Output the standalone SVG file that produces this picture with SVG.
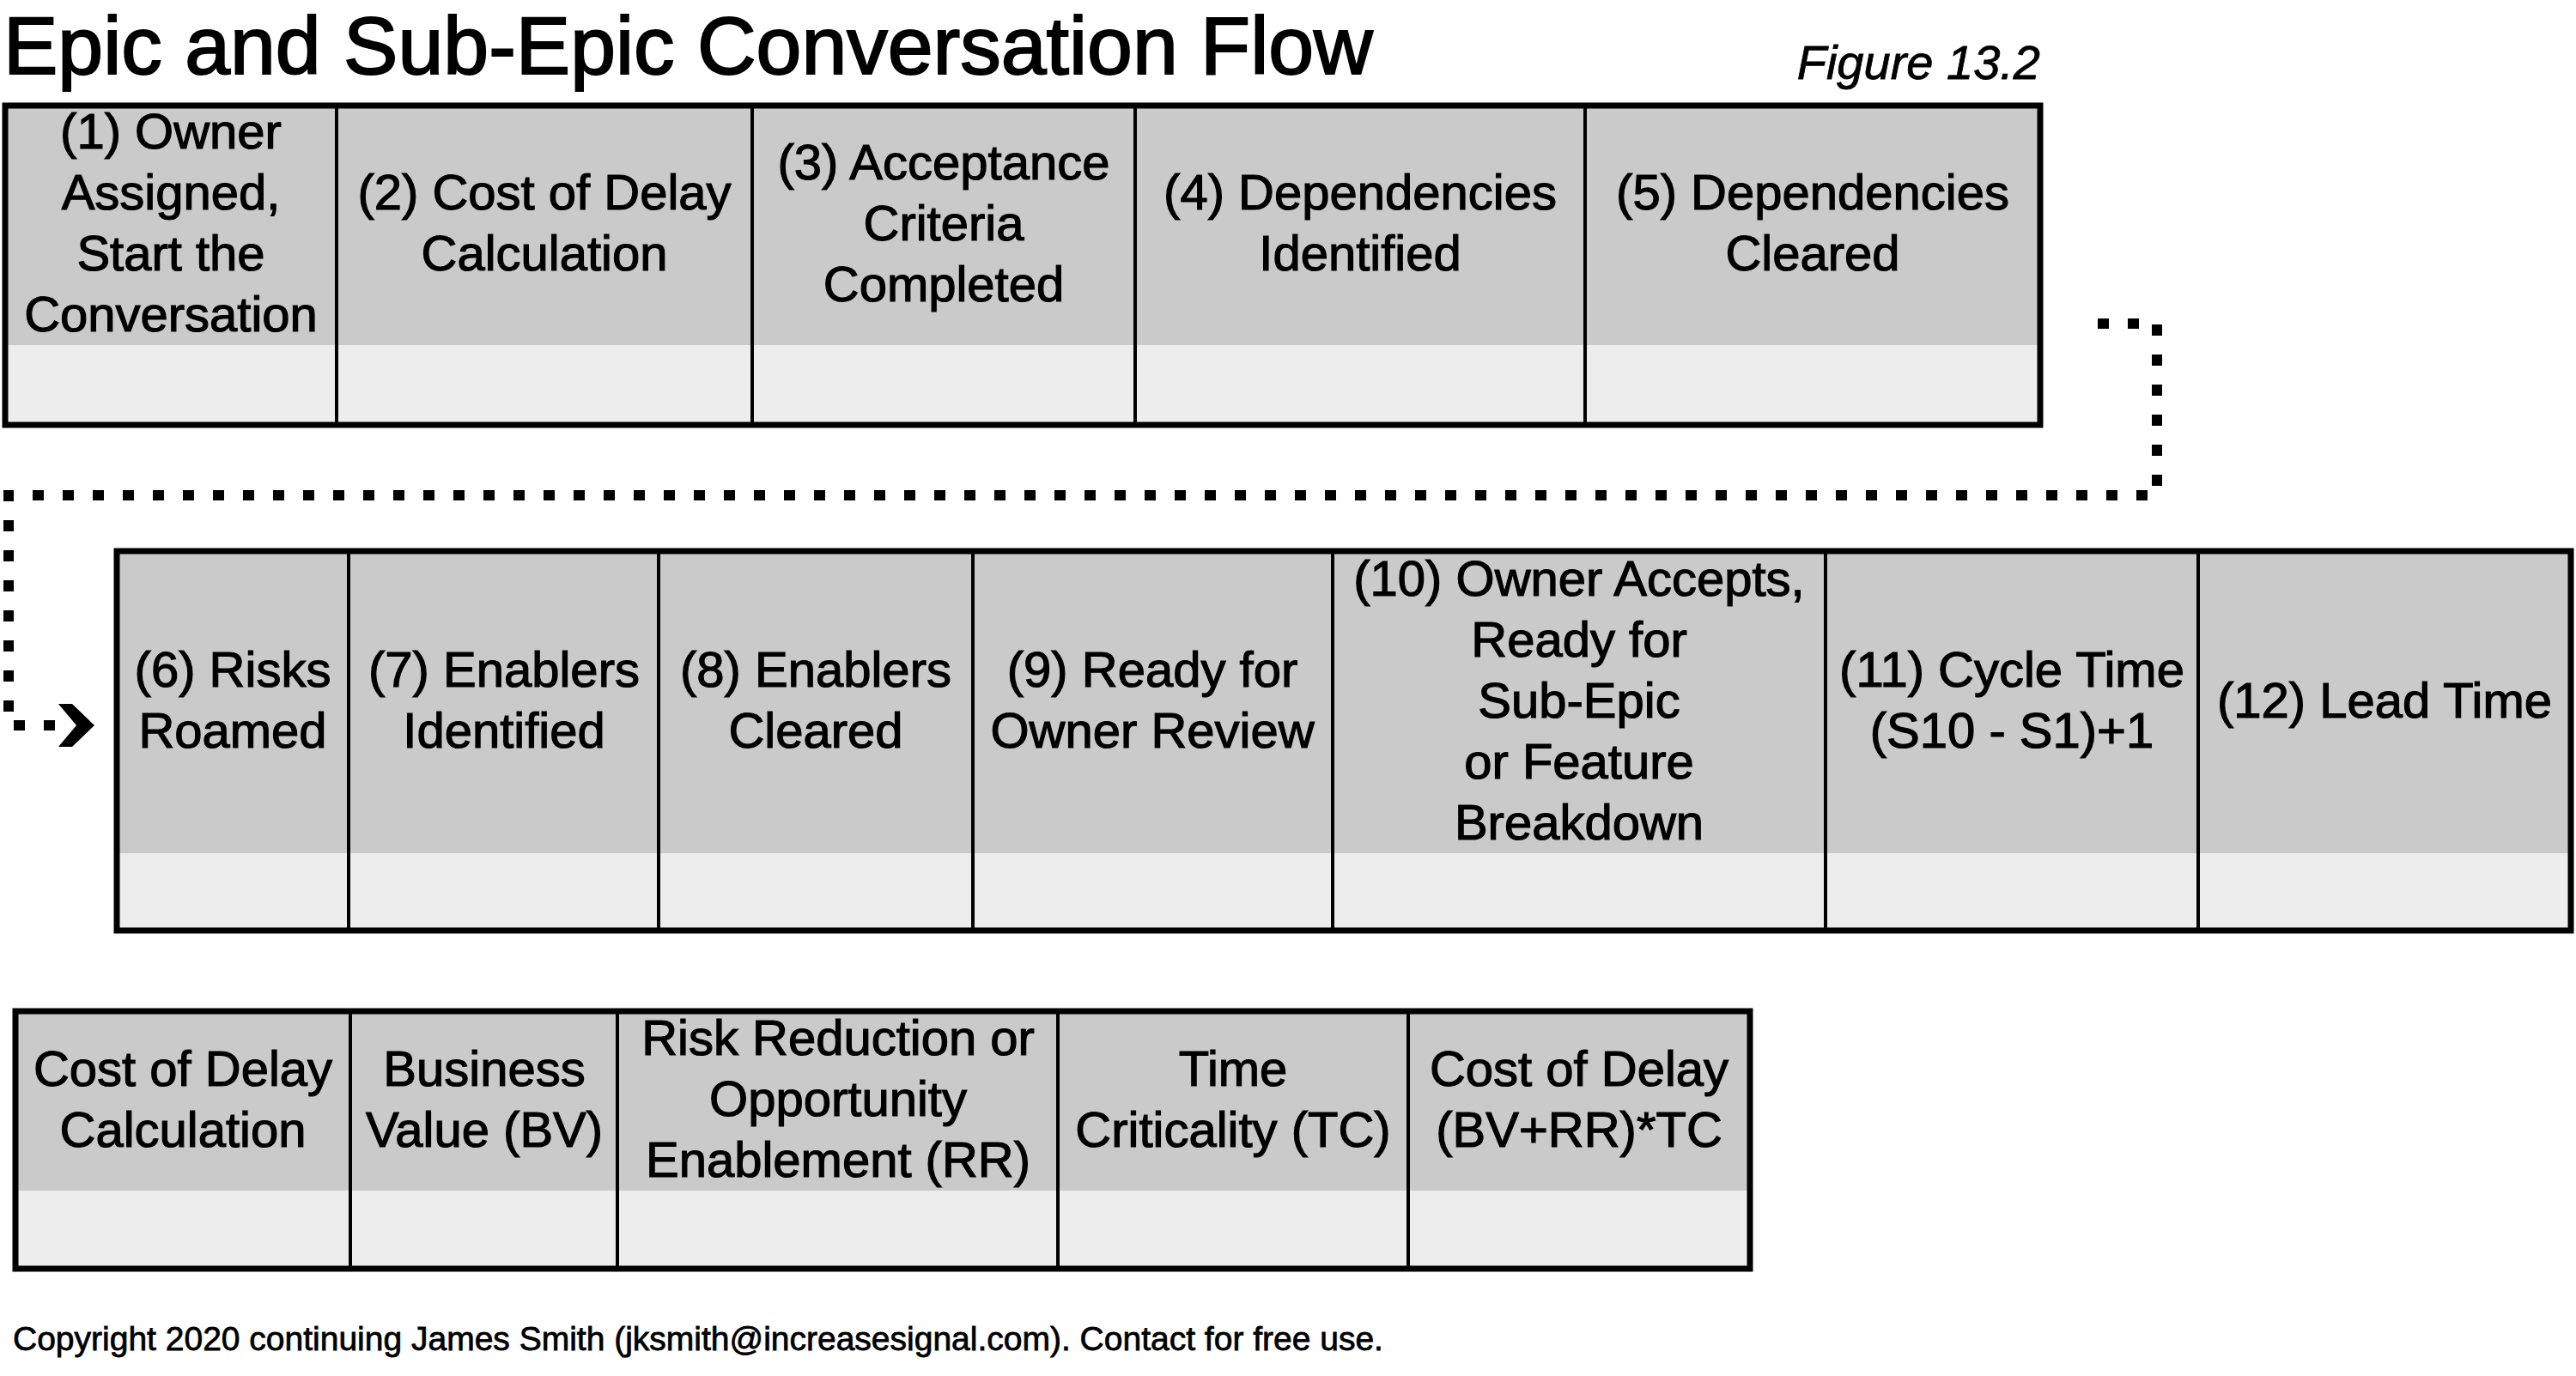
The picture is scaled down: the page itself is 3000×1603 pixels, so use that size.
<svg xmlns="http://www.w3.org/2000/svg" width="3000" height="1603" viewBox="0 0 3000 1603">
  <defs>
    <style>
      .bg { fill: #ffffff; }
      .dark { fill: #cacaca; }
      .light { fill: #ededed; }
      .frame { fill: none; stroke: #000; stroke-width: 7; }
      .div { stroke: #000; stroke-width: 4; }
      .lbl { font-family: "Liberation Sans", Arial, sans-serif; font-size: 58px; fill: #000; stroke: #000; stroke-width: 1.2px; text-anchor: middle; }
      .title { font-family: "Liberation Sans", Arial, sans-serif; font-size: 95px; fill: #000; stroke: #000; stroke-width: 2px; }
      .fig { font-family: "Liberation Sans", Arial, sans-serif; font-size: 56px; font-style: italic; fill: #000; stroke: #000; stroke-width: 0.8px; text-anchor: end; }
      .copy { font-family: "Liberation Sans", Arial, sans-serif; font-size: 39px; fill: #000; stroke: #000; stroke-width: 0.8px; }
      .flow { fill: none; stroke: #000; stroke-width: 12; stroke-dasharray: 13 22; }
    </style>
  </defs>

  <rect class="bg" x="0" y="0" width="3000" height="1603"/>

  <text class="title" x="4" y="86">Epic and Sub-Epic Conversation Flow</text>
  <text class="fig" x="2376" y="92">Figure 13.2</text>

  <!-- Row 1: steps 1-5 -->
  <g id="row1">
    <g id="s1">
      <rect class="dark" x="6" y="123" width="386" height="279"/>
      <rect class="light" x="6" y="402" width="386" height="93"/>
      <text class="lbl" x="199" y="173">(1) Owner</text>
      <text class="lbl" x="199" y="244">Assigned,</text>
      <text class="lbl" x="199" y="315">Start the</text>
      <text class="lbl" x="199" y="386">Conversation</text>
    </g>
    <g id="s2">
      <rect class="dark" x="392" y="123" width="484" height="279"/>
      <rect class="light" x="392" y="402" width="484" height="93"/>
      <text class="lbl" x="634" y="244">(2) Cost of Delay</text>
      <text class="lbl" x="634" y="315">Calculation</text>
    </g>
    <g id="s3">
      <rect class="dark" x="876" y="123" width="446" height="279"/>
      <rect class="light" x="876" y="402" width="446" height="93"/>
      <text class="lbl" x="1099" y="209">(3) Acceptance</text>
      <text class="lbl" x="1099" y="280">Criteria</text>
      <text class="lbl" x="1099" y="351">Completed</text>
    </g>
    <g id="s4">
      <rect class="dark" x="1322" y="123" width="524" height="279"/>
      <rect class="light" x="1322" y="402" width="524" height="93"/>
      <text class="lbl" x="1584" y="244">(4) Dependencies</text>
      <text class="lbl" x="1584" y="315">Identified</text>
    </g>
    <g id="s5">
      <rect class="dark" x="1846" y="123" width="530" height="279"/>
      <rect class="light" x="1846" y="402" width="530" height="93"/>
      <text class="lbl" x="2111" y="244">(5) Dependencies</text>
      <text class="lbl" x="2111" y="315">Cleared</text>
    </g>
    <line class="div" x1="392" y1="123" x2="392" y2="495"/>
    <line class="div" x1="876" y1="123" x2="876" y2="495"/>
    <line class="div" x1="1322" y1="123" x2="1322" y2="495"/>
    <line class="div" x1="1846" y1="123" x2="1846" y2="495"/>
    <rect class="frame" x="6" y="123" width="2370" height="372"/>
  </g>

  <!-- Row 2: steps 6-12 -->
  <g id="row2">
    <g id="s6">
      <rect class="dark" x="136" y="642" width="270" height="352"/>
      <rect class="light" x="136" y="994" width="270" height="90"/>
      <text class="lbl" x="271" y="800">(6) Risks</text>
      <text class="lbl" x="271" y="871">Roamed</text>
    </g>
    <g id="s7">
      <rect class="dark" x="406" y="642" width="361" height="352"/>
      <rect class="light" x="406" y="994" width="361" height="90"/>
      <text class="lbl" x="587" y="800">(7) Enablers</text>
      <text class="lbl" x="587" y="871">Identified</text>
    </g>
    <g id="s8">
      <rect class="dark" x="767" y="642" width="366" height="352"/>
      <rect class="light" x="767" y="994" width="366" height="90"/>
      <text class="lbl" x="950" y="800">(8) Enablers</text>
      <text class="lbl" x="950" y="871">Cleared</text>
    </g>
    <g id="s9">
      <rect class="dark" x="1133" y="642" width="419" height="352"/>
      <rect class="light" x="1133" y="994" width="419" height="90"/>
      <text class="lbl" x="1342" y="800">(9) Ready for</text>
      <text class="lbl" x="1342" y="871">Owner Review</text>
    </g>
    <g id="s10">
      <rect class="dark" x="1552" y="642" width="574" height="352"/>
      <rect class="light" x="1552" y="994" width="574" height="90"/>
      <text class="lbl" x="1839" y="694">(10) Owner Accepts,</text>
      <text class="lbl" x="1839" y="765">Ready for</text>
      <text class="lbl" x="1839" y="836">Sub-Epic</text>
      <text class="lbl" x="1839" y="907">or Feature</text>
      <text class="lbl" x="1839" y="978">Breakdown</text>
    </g>
    <g id="s11">
      <rect class="dark" x="2126" y="642" width="434" height="352"/>
      <rect class="light" x="2126" y="994" width="434" height="90"/>
      <text class="lbl" x="2343" y="800">(11) Cycle Time</text>
      <text class="lbl" x="2343" y="871">(S10 - S1)+1</text>
    </g>
    <g id="s12">
      <rect class="dark" x="2560" y="642" width="434" height="352"/>
      <rect class="light" x="2560" y="994" width="434" height="90"/>
      <text class="lbl" x="2777" y="836">(12) Lead Time</text>
    </g>
    <line class="div" x1="406" y1="642" x2="406" y2="1084"/>
    <line class="div" x1="767" y1="642" x2="767" y2="1084"/>
    <line class="div" x1="1133" y1="642" x2="1133" y2="1084"/>
    <line class="div" x1="1552" y1="642" x2="1552" y2="1084"/>
    <line class="div" x1="2126" y1="642" x2="2126" y2="1084"/>
    <line class="div" x1="2560" y1="642" x2="2560" y2="1084"/>
    <rect class="frame" x="136" y="642" width="2858" height="442"/>
  </g>

  <!-- Row 3: cost of delay breakdown -->
  <g id="row3">
    <g id="cod">
      <rect class="dark" x="18" y="1178" width="390" height="209"/>
      <rect class="light" x="18" y="1387" width="390" height="91"/>
      <text class="lbl" x="213" y="1265">Cost of Delay</text>
      <text class="lbl" x="213" y="1336">Calculation</text>
    </g>
    <g id="bv">
      <rect class="dark" x="408" y="1178" width="311" height="209"/>
      <rect class="light" x="408" y="1387" width="311" height="91"/>
      <text class="lbl" x="564" y="1265">Business</text>
      <text class="lbl" x="564" y="1336">Value (BV)</text>
    </g>
    <g id="rr">
      <rect class="dark" x="719" y="1178" width="513" height="209"/>
      <rect class="light" x="719" y="1387" width="513" height="91"/>
      <text class="lbl" x="976" y="1229">Risk Reduction or</text>
      <text class="lbl" x="976" y="1300">Opportunity</text>
      <text class="lbl" x="976" y="1371">Enablement (RR)</text>
    </g>
    <g id="tc">
      <rect class="dark" x="1232" y="1178" width="408" height="209"/>
      <rect class="light" x="1232" y="1387" width="408" height="91"/>
      <text class="lbl" x="1436" y="1265">Time</text>
      <text class="lbl" x="1436" y="1336">Criticality (TC)</text>
    </g>
    <g id="formula">
      <rect class="dark" x="1640" y="1178" width="398" height="209"/>
      <rect class="light" x="1640" y="1387" width="398" height="91"/>
      <text class="lbl" x="1839" y="1265">Cost of Delay</text>
      <text class="lbl" x="1839" y="1336">(BV+RR)*TC</text>
    </g>
    <line class="div" x1="408" y1="1178" x2="408" y2="1478"/>
    <line class="div" x1="719" y1="1178" x2="719" y2="1478"/>
    <line class="div" x1="1232" y1="1178" x2="1232" y2="1478"/>
    <line class="div" x1="1640" y1="1178" x2="1640" y2="1478"/>
    <rect class="frame" x="18" y="1178" width="2020" height="300"/>
  </g>

  <!-- Dotted wrap-around connector from step 5 to step 6 -->
  <g id="connectors">
    <path class="flow" d="M2443 377 H2512 V577 H10 V845 H70"/>
    <path d="M68 820 L84 820 L110 845 L84 870 L68 870 L89 845 Z" fill="#000"/>
  </g>

  <text class="copy" x="15" y="1573">Copyright 2020 continuing James Smith (jksmith@increasesignal.com). Contact for free use.</text>
</svg>
